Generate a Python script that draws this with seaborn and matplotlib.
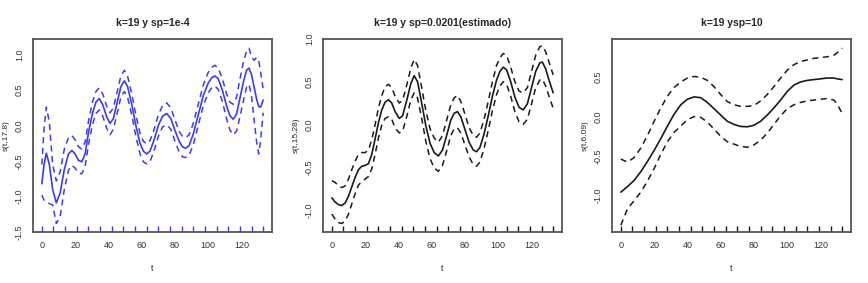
import numpy as np
import pandas as pd
import seaborn as sns
import matplotlib.pyplot as plt

# ---- data ----
titles = ["k=19 y sp=1e-4", "k=19 y sp=0.0201(estimado)", "k=19 ysp=10"]
ylabels = ["s(t,17.8)", "s(t,15.28)", "s(t,6.09)"]
rug_t = [0, 7, 14, 21, 28, 35, 42, 49, 56, 63, 70, 77, 84, 91, 98, 105, 112, 119, 126, 133]

t1 = [0, 1.3, 2.7, 4.5, 6.5, 8.7, 11, 13.5, 16, 18, 20, 22, 24, 26, 28, 30.5, 32.5, 34.5,
      36.5, 39, 41, 43, 45.5, 47.5, 49.6, 51.5, 54, 56.5, 59, 61, 63, 65, 67.5, 70, 72.5,
      75, 77.5, 80, 82.5, 84.5, 86.5, 88.5, 91, 94, 97, 100, 102, 104, 106, 108.5, 111,
      113, 115, 117, 119, 121, 123, 124.5, 126, 127.5, 129, 130.3, 131.5, 133]
fit1 = [-0.82, -0.55, -0.39, -0.55, -0.90, -1.09, -0.95, -0.62, -0.40, -0.35, -0.40, -0.49,
        -0.51, -0.40, -0.10, 0.18, 0.33, 0.38, 0.30, 0.12, 0.03, 0.10, 0.35, 0.55, 0.63,
        0.55, 0.30, 0.00, -0.25, -0.36, -0.40, -0.36, -0.20, 0.00, 0.13, 0.17, 0.10, -0.07,
        -0.22, -0.30, -0.32, -0.28, -0.12, 0.15, 0.42, 0.60, 0.67, 0.70, 0.66, 0.50, 0.28,
        0.14, 0.09, 0.16, 0.38, 0.60, 0.78, 0.81, 0.72, 0.55, 0.38, 0.27, 0.26, 0.36]
up1 = [-0.55, -0.05, 0.26, 0.05, -0.55, -0.78, -0.65, -0.33, -0.17, -0.14, -0.20, -0.30,
       -0.33, -0.23, 0.06, 0.34, 0.48, 0.53, 0.45, 0.27, 0.18, 0.25, 0.50, 0.70, 0.78,
       0.70, 0.45, 0.15, -0.11, -0.22, -0.26, -0.21, -0.05, 0.15, 0.28, 0.32, 0.25, 0.08,
       -0.08, -0.15, -0.17, -0.13, 0.03, 0.30, 0.57, 0.75, 0.82, 0.85, 0.81, 0.66, 0.45,
       0.33, 0.30, 0.40, 0.65, 0.88, 1.05, 1.09, 0.97, 0.92, 0.96, 0.92, 0.75, 0.52]
lo1 = [-0.98, -1.05, -1.08, -1.10, -1.12, -1.38, -1.28, -0.90, -0.63, -0.56, -0.60, -0.67,
       -0.68, -0.58, -0.27, 0.02, 0.17, 0.22, 0.14, -0.04, -0.13, -0.05, 0.20, 0.40, 0.48,
       0.40, 0.15, -0.15, -0.40, -0.51, -0.54, -0.51, -0.35, -0.15, -0.02, 0.01, -0.05,
       -0.22, -0.37, -0.44, -0.45, -0.42, -0.27, 0.00, 0.28, 0.46, 0.53, 0.56, 0.51, 0.34,
       0.10, -0.06, -0.13, -0.08, 0.12, 0.33, 0.54, 0.58, 0.42, 0.10, -0.22, -0.40, -0.20,
       0.18]

t2 = [0, 2, 4, 6, 8, 10, 12, 14, 16, 18, 20, 22, 24, 26, 28, 30, 32, 34, 36, 38, 40.5,
      42.5, 45, 47.5, 49.5, 51.5, 54, 56.5, 59, 61.5, 64, 66.5, 69, 71.5, 73.5, 75.5, 77.5,
      80, 82.5, 85, 87, 89, 91.5, 94, 96.5, 99, 101, 103, 105, 107.5, 110, 112.5, 115,
      117.5, 120, 122.5, 125, 126.5, 128.5, 130.5, 133]
fit2 = [-0.86, -0.91, -0.94, -0.95, -0.92, -0.84, -0.73, -0.62, -0.53, -0.49, -0.48, -0.46,
        -0.35, -0.17, 0.02, 0.17, 0.26, 0.29, 0.25, 0.15, 0.07, 0.10, 0.28, 0.48, 0.57,
        0.50, 0.25, -0.02, -0.22, -0.33, -0.37, -0.30, -0.13, 0.05, 0.13, 0.15, 0.09, -0.06,
        -0.21, -0.30, -0.32, -0.27, -0.11, 0.10, 0.33, 0.52, 0.62, 0.67, 0.64, 0.50, 0.32,
        0.20, 0.17, 0.24, 0.43, 0.62, 0.72, 0.73, 0.65, 0.52, 0.37]
up2 = [-0.66, -0.68, -0.72, -0.74, -0.72, -0.64, -0.53, -0.43, -0.35, -0.33, -0.33, -0.30,
       -0.18, 0.00, 0.19, 0.34, 0.44, 0.47, 0.43, 0.33, 0.25, 0.28, 0.46, 0.66, 0.76,
       0.69, 0.43, 0.16, -0.05, -0.16, -0.21, -0.13, 0.05, 0.23, 0.31, 0.34, 0.27, 0.12,
       -0.04, -0.13, -0.15, -0.10, 0.06, 0.27, 0.50, 0.69, 0.78, 0.83, 0.81, 0.67, 0.50,
       0.39, 0.37, 0.43, 0.62, 0.81, 0.91, 0.92, 0.85, 0.73, 0.58]
lo2 = [-1.05, -1.11, -1.15, -1.16, -1.13, -1.05, -0.93, -0.81, -0.71, -0.67, -0.64, -0.61,
       -0.52, -0.35, -0.16, -0.01, 0.07, 0.09, 0.06, -0.04, -0.10, -0.08, 0.09, 0.29, 0.37,
       0.31, 0.07, -0.20, -0.40, -0.51, -0.55, -0.48, -0.31, -0.13, -0.05, -0.04, -0.10,
       -0.24, -0.38, -0.47, -0.49, -0.44, -0.28, -0.07, 0.16, 0.35, 0.45, 0.50, 0.47, 0.33,
       0.15, 0.03, 0.00, 0.06, 0.24, 0.43, 0.52, 0.53, 0.45, 0.33, 0.19]

t3 = [0, 4, 8, 12, 16, 20, 24, 28, 32, 36, 40, 44, 48, 52, 56, 60, 64, 68, 72, 76, 80, 84,
      88, 92, 96, 100, 104, 108, 112, 116, 120, 124, 128, 130, 133]
fit3 = [-0.96, -0.89, -0.81, -0.70, -0.57, -0.43, -0.28, -0.12, 0.03, 0.15, 0.22, 0.25,
        0.24, 0.18, 0.10, 0.02, -0.06, -0.10, -0.125, -0.13, -0.11, -0.06, 0.02, 0.11,
        0.21, 0.32, 0.40, 0.44, 0.46, 0.47, 0.48, 0.49, 0.49, 0.48, 0.47]
up3 = [-0.54, -0.58, -0.52, -0.40, -0.24, -0.06, 0.11, 0.26, 0.37, 0.44, 0.49, 0.51, 0.50,
       0.46, 0.38, 0.28, 0.19, 0.15, 0.13, 0.13, 0.14, 0.20, 0.28, 0.38, 0.49, 0.59, 0.66,
       0.70, 0.72, 0.74, 0.75, 0.76, 0.78, 0.81, 0.87]
lo3 = [-1.38, -1.17, -1.07, -0.96, -0.82, -0.66, -0.48, -0.32, -0.20, -0.12, -0.04, 0.00,
       -0.01, -0.07, -0.16, -0.25, -0.32, -0.35, -0.38, -0.39, -0.36, -0.30, -0.21, -0.10,
       0.01, 0.10, 0.15, 0.18, 0.20, 0.21, 0.22, 0.23, 0.21, 0.16, 0.04]

panels = [
    (t1, fit1, up1, lo1, "#3d3de8", (-1.5, 1.22), [-1.5, -1.0, -0.5, 0.0, 0.5, 1.0]),
    (t2, fit2, up2, lo2, "#1a1a1a", (-1.26, 1.0), [-1.0, -0.5, 0.0, 0.5, 1.0]),
    (t3, fit3, up3, lo3, "#1a1a1a", (-1.467, 0.986), [-1.0, -0.5, 0.0, 0.5]),
]

sns.set_style("white")
plt.rcParams['font.family'] = ['Liberation Sans', 'DejaVu Sans']

fig = plt.figure(figsize=(8.68, 2.83), dpi=100)
lefts = [33 / 868, 323 / 868, 612 / 868]
width = 239 / 868
bottom = (283 - 232) / 283
height = 193 / 283

for i, (t, fit, up, lo, col, ylim, yt) in enumerate(panels):
    ax = fig.add_axes([lefts[i], bottom, width, height])
    df = pd.DataFrame({"t": t, "fit": fit, "up": up, "lo": lo})
    sns.lineplot(data=df, x="t", y="fit", ax=ax, color=col, lw=1.2)
    sns.lineplot(data=df, x="t", y="up", ax=ax, color=col, lw=1.1, dashes=False,
                 linestyle=(0, (4, 3)))
    sns.lineplot(data=df, x="t", y="lo", ax=ax, color=col, lw=1.1, dashes=False,
                 linestyle=(0, (4, 3)))
    sns.rugplot(x=rug_t, ax=ax, height=0.033, color=col, lw=1.1)

    ax.set_xlim(-5.32, 138.32)
    ax.set_ylim(*ylim)
    ax.set_xticks([0, 20, 40, 60, 80, 100, 120])
    ax.set_yticks(yt)
    ax.set_yticklabels([f"{v:.1f}" for v in yt], rotation=90, va="center")
    ax.tick_params(direction="out", length=4, width=0.8, colors="#333333",
                   labelsize=6.5, pad=2.5)
    for s in ax.spines.values():
        s.set_visible(True)
        s.set_color("#555555")
        s.set_linewidth(1.3)
    ax.set_title(titles[i], fontsize=7.5, fontweight="bold", pad=9)
    ax.set_xlabel("t", fontsize=6.5, labelpad=10)
    ax.set_ylabel(ylabels[i], fontsize=6)
    ax.yaxis.set_label_coords(-0.098, 0.5)

fig.savefig("out.png", dpi=100)
